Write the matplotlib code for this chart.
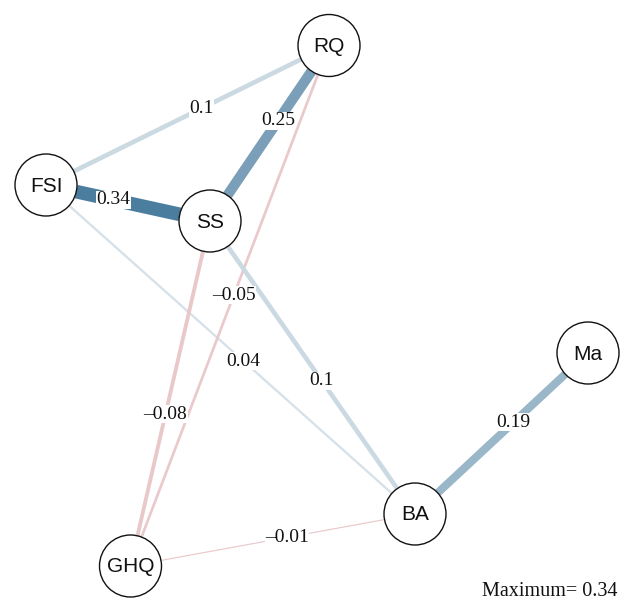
import numpy as np
import matplotlib
matplotlib.use("Agg")
import matplotlib.pyplot as plt
from matplotlib.patches import Circle

# Network nodes and partial-correlation edges
nodes = ["RQ", "FSI", "SS", "Ma", "BA", "GHQ"]
edge_from = ["FSI", "SS", "FSI", "RQ", "FSI", "SS", "SS", "Ma", "GHQ"]
edge_to = ["RQ", "RQ", "SS", "GHQ", "BA", "BA", "GHQ", "BA", "BA"]
edge_weight = [0.10, 0.25, 0.34, -0.05, 0.04, 0.10, -0.08, 0.19, -0.01]

# Layout (pixel coordinates on the canvas, y downward)
layout = {
    "RQ": (329, 45.5),
    "FSI": (46, 185),
    "SS": (210, 221),
    "Ma": (588, 353),
    "BA": (415, 514),
    "GHQ": (130.5, 566),
}
label_at = [0.55, 0.57, 0.41, 0.48, 0.535, 0.545, 0.56, 0.43, 0.55]

W, H = 620, 604
NODE_R = 31
POS_COL = np.array([75, 125, 158]) / 255
NEG_COL = np.array([160, 20, 30]) / 255
max_w = max(abs(w) for w in edge_weight)

fig = plt.figure(figsize=(W / 100, H / 100), dpi=100)
ax = fig.add_axes([0, 0, 1, 1])
ax.set_xlim(0, W)
ax.set_ylim(H, 0)
ax.set_aspect("equal")
ax.axis("off")

px = 72 / 100  # points per pixel

for a, b, w, t in zip(edge_from, edge_to, edge_weight, label_at):
    p0 = np.array(layout[a], float)
    p1 = np.array(layout[b], float)
    d = (p1 - p0) / np.linalg.norm(p1 - p0)
    s = p0 + d * NODE_R
    e = p1 - d * NODE_R
    f = max(abs(w) / max_w, 0.23)
    base = POS_COL if w > 0 else NEG_COL
    col = 1 - f * (1 - base)
    width = 0.8 + 38 * abs(w)
    ax.plot([s[0], e[0]], [s[1], e[1]], color=col, lw=width * px,
            solid_capstyle="butt", zorder=1 + abs(w))
    lp = p0 + (p1 - p0) * t
    txt = f"{w:g}".replace("-", "\u2013")
    ax.text(lp[0], lp[1], txt, ha="center", va="center", fontsize=14,
            family="Liberation Serif", color="#111111", zorder=5,
            bbox=dict(boxstyle="square,pad=0.02", fc="white", ec="none"))

for n in nodes:
    x, y = layout[n]
    ax.add_patch(Circle((x, y), NODE_R, fc="white", ec="#111111", lw=1.0, zorder=10))
    ax.text(x, y + 1, n, ha="center", va="center", fontsize=15,
            family="Liberation Sans", color="#111111", zorder=11)

ax.text(617, 596, f"Maximum= {max_w:g}", ha="right", va="baseline",
        fontsize=14.5, family="Liberation Serif", color="#111111")

fig.savefig("out.png", dpi=100, facecolor="white")
